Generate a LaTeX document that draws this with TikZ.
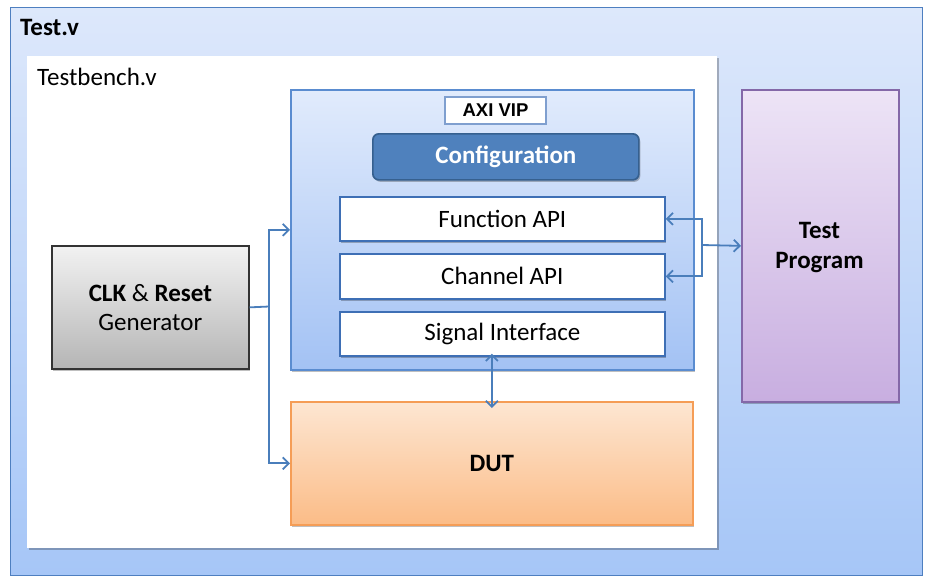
\documentclass[tikz,border=0pt]{standalone}
\usepackage{fontspec}
\setmainfont{Carlito}
\newfontfamily\arialfont{Liberation Sans}
\usetikzlibrary{shadows,arrows.meta}
\definecolor{linec}{HTML}{4A7EBB}
\definecolor{outtop}{HTML}{DDE8FB}
\definecolor{outbot}{HTML}{A6C6F7}
\definecolor{outdraw}{HTML}{4E7FC0}
\definecolor{axitop}{HTML}{E1EBFC}
\definecolor{axibot}{HTML}{A3C2F4}
\definecolor{axidraw}{HTML}{5A8CD0}
\definecolor{cfgfill}{HTML}{4F81BD}
\definecolor{cfgdraw}{HTML}{36608F}
\definecolor{apidraw}{HTML}{3E6FB5}
\definecolor{clktop}{HTML}{F2F2F2}
\definecolor{clkbot}{HTML}{B5B5B5}
\definecolor{duttop}{HTML}{FDE6D2}
\definecolor{dutbot}{HTML}{FBBC87}
\definecolor{dutdraw}{HTML}{F59D56}
\definecolor{tptop}{HTML}{EDE4F6}
\definecolor{tpbot}{HTML}{C8AEE0}
\definecolor{tpdraw}{HTML}{8468A8}
\definecolor{lbldraw}{HTML}{7F9FCF}
\tikzset{
  blk/.style={rectangle, inner sep=0pt, anchor=north west, align=center,
    font=\fontsize{25}{29}\selectfont},
  shad/.style={drop shadow={shadow xshift=1.5pt, shadow yshift=-2pt, opacity=0.25, fill=black}},
  api/.style={blk, draw=apidraw, fill=white, line width=1.7pt, shad},
  conn/.style={draw=linec, line width=1.8pt, -{Straight Barb[length=6pt,width=12pt]}},
  bconn/.style={draw=linec, line width=1.8pt, {Straight Barb[length=6pt,width=12pt]}-{Straight Barb[length=6pt,width=12pt]}},
}
\begin{document}
\begin{tikzpicture}[x=1pt,y=-1pt]
\useasboundingbox (0,0) rectangle (928,582);
% Test.v
\node[blk, draw=outdraw, line width=1.4pt, top color=outtop, bottom color=outbot,
      minimum width=912pt, minimum height=568pt] (testv) at (10,7) {};
\node[anchor=west, inner sep=0pt, font=\fontsize{25}{29}\selectfont\bfseries] (testvlbl) at (20,27) {Test.v};
% Testbench
\node[blk, fill=white, minimum width=690pt, minimum height=492pt, shad] (tb) at (27,56) {};
\node[anchor=west, inner sep=0pt, font=\fontsize{25}{29}\selectfont] (tblbl) at (37,77) {Testbench.v};
% AXI VIP
\node[blk, draw=axidraw, line width=1.7pt, top color=axitop, bottom color=axibot,
      minimum width=403pt, minimum height=280pt, shad] (axi) at (290,89) {};
\node[blk, draw=lbldraw, fill=white, line width=2pt, minimum width=101pt, minimum height=27pt,
      font=\arialfont\bfseries\fontsize{18.5}{20}\selectfont] (axilbl) at (444,96) {AXI VIP};
\node[blk, rounded corners=6pt, draw=cfgdraw, fill=cfgfill, line width=1.7pt,
      minimum width=266pt, minimum height=46pt, text=white,
      font=\fontsize{25}{29}\selectfont\bfseries, shad] (cfg) at (372,133) {Configuration};
\node[api, minimum width=325pt, minimum height=44pt] (fn) at (339,196) {Function API};
\node[api, minimum width=325pt, minimum height=45pt] (ch) at (339,253) {Channel API};
\node[api, minimum width=325pt, minimum height=44pt] (sig) at (339,311) {Signal Interface};
% CLK
\node[blk, draw=black!80, line width=1.7pt, top color=clktop, bottom color=clkbot,
      minimum width=197pt, minimum height=123pt, shad] (clk) at (51,245)
      {\textbf{CLK} \& \textbf{Reset}\\Generator};
% DUT
\node[blk, draw=dutdraw, line width=1.7pt, top color=duttop, bottom color=dutbot,
      minimum width=402pt, minimum height=123pt, font=\fontsize{25}{29}\selectfont\bfseries, shad]
      (dut) at (290,401) {DUT};
% Test Program
\node[blk, draw=tpdraw, line width=1.7pt, top color=tptop, bottom color=tpbot,
      minimum width=157pt, minimum height=312pt, shad] (tp) at (741,89) {};
\node[align=center, inner sep=0pt, font=\fontsize{25}{30}\selectfont\bfseries] (tplbl)
      at (819.5,248) {Test\\Program};
% connectors
\coordinate (j1) at (269,306.5);
\draw[line width=1.8pt, draw=linec] (clk.east) -- (j1);
\draw[conn] (j1) |- (axi.west);
\draw[conn] (j1) |- (dut.west);
\coordinate (j2) at (702,245);
\draw[conn] (j2) |- (fn.east);
\draw[conn] (j2) |- (ch.east);
\draw[conn] (j2) -- (tp.west);
\draw[bconn, shorten <=-3pt, shorten >=-7pt] (dut.north |- sig.south) -- (dut.north);
\end{tikzpicture}
\end{document}
